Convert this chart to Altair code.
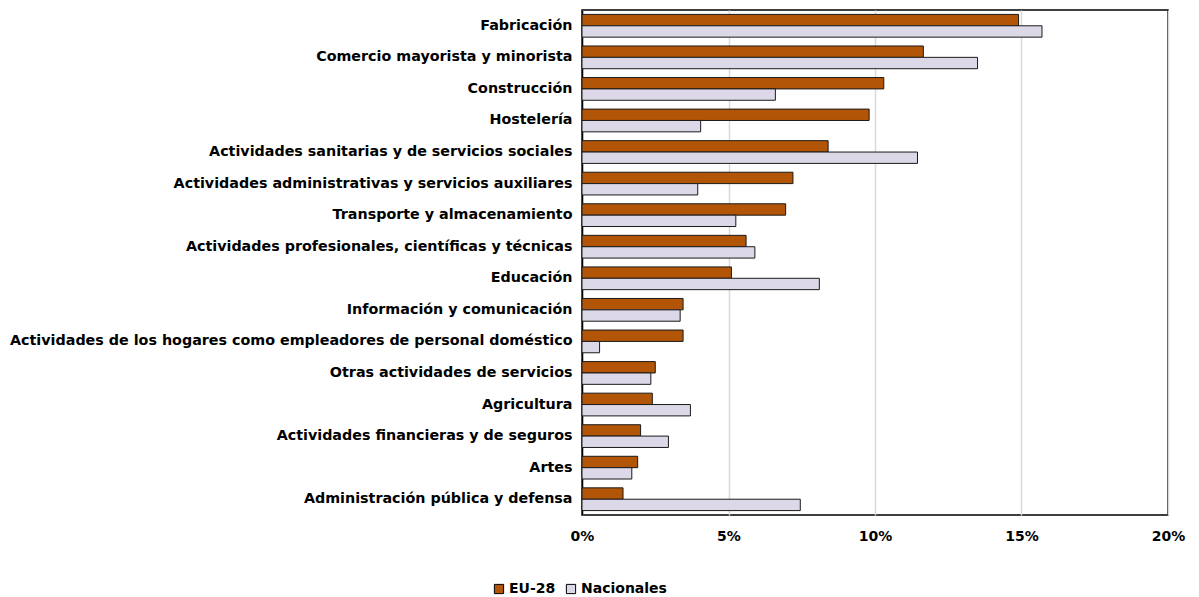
import altair as alt
import pandas as pd

categories = [
    "Fabricación",
    "Comercio mayorista y minorista",
    "Construcción",
    "Hostelería",
    "Actividades sanitarias y de servicios sociales",
    "Actividades administrativas y servicios auxiliares",
    "Transporte y almacenamiento",
    "Actividades profesionales, científicas y técnicas",
    "Educación",
    "Información y comunicación",
    "Actividades de los hogares como empleadores de personal doméstico",
    "Otras actividades de servicios",
    "Agricultura",
    "Actividades financieras y de seguros",
    "Artes",
    "Administración pública y defensa",
]
eu28 = [14.9, 11.65, 10.3, 9.8, 8.4, 7.2, 6.95, 5.6, 5.1, 3.45, 3.45, 2.5, 2.4, 2.0, 1.9, 1.4]
nacionales = [15.7, 13.5, 6.6, 4.05, 11.45, 3.95, 5.25, 5.9, 8.1, 3.35, 0.6, 2.35, 3.7, 2.95, 1.7, 7.45]
series = ["EU-28", "Nacionales"]
colors = ["#B35506", "#DCD8E8"]

rows = []
for i, c in enumerate(categories):
    rows.append({"cat": c, "serie": series[0], "v": eu28[i] / 100})
    rows.append({"cat": c, "serie": series[1], "v": nacionales[i] / 100})
df = pd.DataFrame(rows)

FONT = "DejaVu Sans"

chart = alt.Chart(df).mark_bar(stroke="#1a1a1a", strokeWidth=1).encode(
    y=alt.Y("cat:N", sort=categories, title=None,
            scale=alt.Scale(paddingInner=0.28, paddingOuter=0.14),
            axis=alt.Axis(labelFont=FONT, labelFontWeight="bold", labelFontSize=14.3,
                          labelColor="#000000", labelPadding=10, ticks=False,
                          domain=True, domainColor="#000000", domainWidth=1.5,
                          labelLimit=700)),
    yOffset=alt.YOffset("serie:N", sort=series),
    x=alt.X("v:Q", title=None,
            scale=alt.Scale(domain=[0, 0.2], nice=False),
            axis=alt.Axis(format=".0%", values=[0, 0.05, 0.1, 0.15, 0.2],
                          labelFont=FONT, labelFontWeight="bold", labelFontSize=14,
                          labelColor="#000000", labelPadding=14, ticks=False,
                          domain=False, grid=True, gridColor="#d9d9d9", gridWidth=1.5,
                          labelFlush=False)),
    color=alt.Color("serie:N", sort=series,
                    scale=alt.Scale(domain=series, range=colors),
                    legend=alt.Legend(title=None, orient="none", direction="horizontal",
                                      legendX=-90, legendY=572, symbolType="square",
                                      symbolSize=85, symbolStrokeColor="#000000",
                                      symbolStrokeWidth=1, labelFont=FONT,
                                      labelFontWeight="bold", labelFontSize=14,
                                      labelColor="#000000", columnPadding=8,
                                      labelOffset=3)),
).properties(
    width=586, height=505,
    autosize=alt.AutoSizeParams(type="none"),
    padding={"left": 574, "top": 2, "right": 20, "bottom": 80},
).configure_view(stroke="#000000", strokeWidth=1.5)

chart.save("out.html", embed_options={"renderer": "svg", "actions": False})
